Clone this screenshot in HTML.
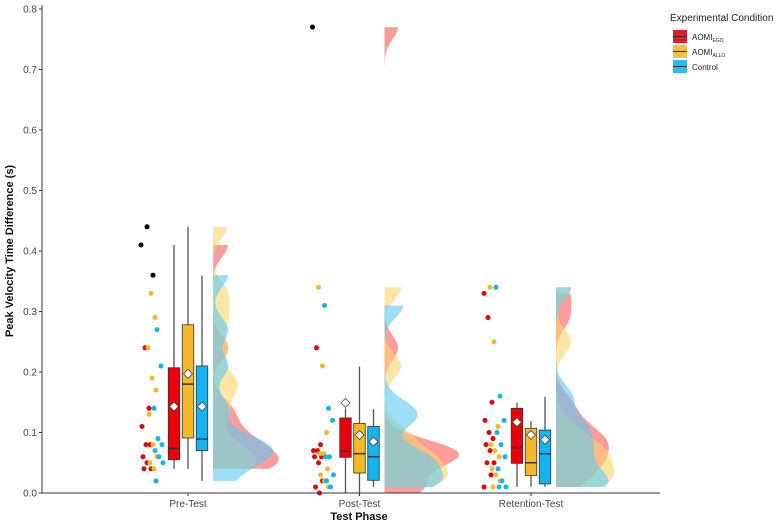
<!DOCTYPE html>
<html><head><meta charset="utf-8"><style>
body{margin:0;background:#fff;}
svg{display:block;font-family:"Liberation Sans",Arial,sans-serif;}
</style></head><body>
<svg id="chart" width="779" height="526" viewBox="0 0 779 526">
<g id="grid"></g><g id="dens"></g><g id="pts"></g><g id="boxes"></g><g id="axes"></g>
<g>
<text x="670" y="21" font-size="10" fill="#222">Experimental Condition</text>
<g>
<rect x="673" y="30" width="14" height="13" fill="#e8000b" opacity="0.9"/><line x1="673" y1="36.5" x2="687" y2="36.5" stroke="#333" stroke-width="1"/>
<text x="692" y="40" font-size="8" fill="#222">AOMI<tspan font-size="5" dy="2">EGO</tspan></text></g>
<g>
<rect x="673" y="45" width="14" height="13" fill="#f5b92a" opacity="0.9"/><line x1="673" y1="51.5" x2="687" y2="51.5" stroke="#333" stroke-width="1"/>
<text x="692" y="55" font-size="8" fill="#222">AOMI<tspan font-size="5" dy="2">ALLO</tspan></text></g>
<g>
<rect x="673" y="60" width="14" height="13" fill="#14b4ee" opacity="0.9"/><line x1="673" y1="66.5" x2="687" y2="66.5" stroke="#333" stroke-width="1"/>
<text x="692" y="70" font-size="8" fill="#222">Control</text></g>
</g>
<text x="359" y="520" font-size="11" font-weight="bold" text-anchor="middle" fill="#111">Test Phase</text>
<text transform="translate(13,251) rotate(-90)" font-size="11" font-weight="bold" text-anchor="middle" fill="#111">Peak Velocity Time Difference (s)</text>
</svg>
<script>
const categories = ["Pre-Test","Post-Test","Retention-Test"];
const groups = ["AOMI_EGO","AOMI_ALLO","Control"];
const yTicks = [0,0.1,0.2,0.3,0.4,0.5,0.6,0.7,0.8];
// raw observations [category][group]
const preEgo = [0.41,0.24,0.14,0.11,0.08,0.08,0.06,0.05,0.04,0.04];
const preAllo = [0.44,0.33,0.29,0.24,0.19,0.17,0.13,0.08,0.06,0.05,0.04];
const preCtrl = [0.36,0.27,0.21,0.14,0.09,0.08,0.07,0.06,0.05,0.02];
const postEgo = [0.77,0.24,0.08,0.07,0.07,0.06,0.06,0.05,0.02,0.01,0.0];
const postAllo = [0.34,0.21,0.10,0.065,0.065,0.04,0.03,0.02,0.01];
const postCtrl = [0.31,0.14,0.12,0.06,0.06,0.03,0.02,0.01];
const retEgo = [0.33,0.29,0.15,0.12,0.10,0.09,0.08,0.07,0.05,0.05,0.03,0.01];
const retAllo = [0.34,0.25,0.11,0.08,0.07,0.06,0.04,0.03,0.02,0.01];
const retCtrl = [0.34,0.16,0.12,0.10,0.08,0.06,0.04,0.02,0.01,0.01];
const outliers = [[0.41],[0.44],[0.36],[0.77],[],[],[],[],[]];
// box stats: [whiskerLow, q1, median, q3, whiskerHigh, mean]
const boxStats = [
 [0.04,0.055,0.074,0.207,0.41,0.143],[0.04,0.091,0.18,0.278,0.44,0.197],[0.02,0.07,0.089,0.21,0.359,0.143],
 [0.0,0.059,0.069,0.124,0.14,0.149],[0.0,0.033,0.065,0.115,0.209,0.096],[0.01,0.021,0.06,0.11,0.139,0.085],
 [0.01,0.049,0.075,0.14,0.149,0.117],[0.01,0.029,0.05,0.107,0.119,0.096],[0.01,0.015,0.065,0.104,0.159,0.088]];
const obs = [preEgo,preAllo,preCtrl,postEgo,postAllo,postCtrl,retEgo,retAllo,retCtrl];

const colors=["#e8000b","#f5b92a","#14b4ee"];
const dcolors=["#ff5a5a","#ffd36b","#5ccaf5"];
const NS="http://www.w3.org/2000/svg";
const x0=42,x1=660,yTop=9,yBot=493;
const y=v=>yBot-(v/0.8)*(yBot-yTop);
const catX=i=>188+i*171.5;
function mk(tag,attrs,parent){const e=document.createElementNS(NS,tag);for(const k in attrs)e.setAttribute(k,attrs[k]);parent.appendChild(e);return e;}
const axes=document.getElementById('axes');
const a1=mk('line',{x1:x0,y1:yTop-4,x2:x0,y2:yBot,stroke:'#333','stroke-width':1},axes);


const a2=mk('line',{x1:x0,y1:yBot,x2:x1,y2:yBot,stroke:'#333','stroke-width':1},axes);


yTicks.forEach(t=>{
 mk('line',{x1:x0-3,y1:y(t),x2:x0,y2:y(t),stroke:'#333'},axes);
 const tx=mk('text',{x:x0-5,y:y(t)+3.5,'font-size':10,'text-anchor':'end',fill:'#444'},axes);
 tx.textContent=t.toFixed(1);
 
 
});
categories.forEach((c,i)=>{
 mk('line',{x1:catX(i),y1:yBot,x2:catX(i),y2:yBot+3,stroke:'#333'},axes);
 const tx=mk('text',{x:catX(i),y:yBot+14,'font-size':10,'text-anchor':'middle',fill:'#444'},axes);
 tx.textContent=c;
 
 
});
const dens=document.getElementById('dens'),pts=document.getElementById('pts'),boxes=document.getElementById('boxes');
const bw=0.02, scale=7.5;
obs.forEach((d,k)=>{
 const ci=Math.floor(k/3),g=k%3,cx=catX(ci);
 const lo=Math.min(...d),hi=Math.max(...d),base=cx+25;
 let path=`M${base},${y(lo)}`;
 for(let s=0;s<=120;s++){const v=lo+(hi-lo)*s/120;let den=0;d.forEach(p=>{den+=Math.exp(-0.5*((v-p)/bw)**2);});den/=d.length*bw*Math.sqrt(2*Math.PI);path+=` L${base+den*scale},${y(v)}`;}
 path+=` L${base},${y(hi)} Z`;
 const dp=mk('path',{d:path,fill:dcolors[g],opacity:0.6},dens);
 
 
 d.forEach((v,j)=>{
  const isOut=outliers[k].includes(v);
  const px=cx-42+g*6+((j*37)%11)-5;
  const c=mk('circle',{cx:px,cy:y(v),r:2.5,fill:isOut?'#000':colors[g]},pts);
  
  
 });
 const s=boxStats[k],bx=cx+(g-1)*14,w=11.5;
 mk('line',{x1:bx,y1:y(s[0]),x2:bx,y2:y(s[4]),stroke:'#555','stroke-width':1.3},boxes);
 const r=mk('rect',{x:bx-w/2,y:y(s[3]),width:w,height:y(s[1])-y(s[3]),fill:colors[g],stroke:'#333','stroke-width':0.8},boxes);
 
 
 mk('line',{x1:bx-w/2,y1:y(s[2]),x2:bx+w/2,y2:y(s[2]),stroke:'#333','stroke-width':1.5},boxes);
 const m=y(s[5]);
 const dm=mk('path',{d:`M${bx},${m-4.5} L${bx+4.5},${m} L${bx},${m+4.5} L${bx-4.5},${m} Z`,fill:'#fff',stroke:'#444','stroke-width':0.8},boxes);
 
 
});
</script>
</body></html>
